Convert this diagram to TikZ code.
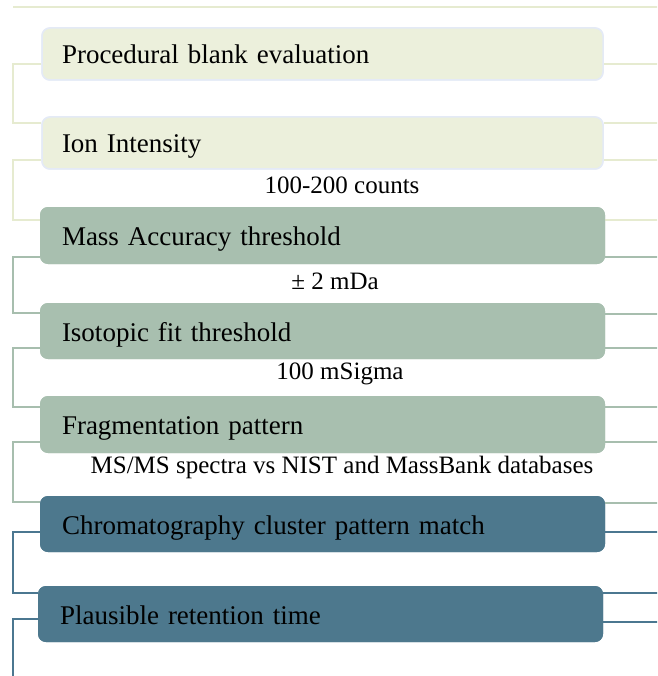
\documentclass[tikz,border=0pt]{standalone}
\usepackage{fontspec}
\setmainfont{Liberation Serif}
\definecolor{lfill}{HTML}{ECF0DC}
\definecolor{lborder}{HTML}{E4EAF6}
\definecolor{lline}{HTML}{E6EBD0}
\definecolor{gfill}{HTML}{A8BFAF}
\definecolor{gline}{HTML}{A7BEAE}
\definecolor{bfill}{HTML}{4D788D}
\definecolor{bline}{HTML}{4B7790}
\begin{document}
\begin{tikzpicture}[x=1pt,y=-1pt,
  box/.style={rectangle, rounded corners=8pt, minimum width=561pt, inner xsep=20pt, inner ysep=0pt,
     text width=521pt, align=left, font=\fontsize{27}{30}\selectfont, anchor=center,
     text height=22pt, text depth=2pt},
  lbox/.style={box, fill=lfill, draw=lborder, line width=1.5pt},
  gbox/.style={box, fill=gfill},
  bbox/.style={box, fill=bfill},
  lab/.style={font=\fontsize{25}{28}\selectfont, inner sep=0pt},
  conn/.style={line width=2.4pt},
  lc/.style={conn, draw=lline},
  gc/.style={conn, draw=gline},
  bc/.style={conn, draw=bline}]
\useasboundingbox (0,0) rectangle (657,676);
\clip (0,0) rectangle (657,676);
\coordinate (L) at (13,0);
\coordinate (R) at (680,0);
\coordinate (T) at (13,7);
% top line
\draw[lc] (T) -- (R |- T);
% boxes (positions)
\node[lbox, minimum height=52pt] (b1) at (322.5,54) {};
\node[lbox, minimum height=52pt] (b2) at (322.5,143) {};
\node[gbox, minimum height=57pt, minimum width=565pt] (b3) at (322.5,235.5) {};
\node[gbox, minimum height=56pt, minimum width=565pt] (b4) at (322.5,331) {};
\node[gbox, minimum height=57pt, minimum width=565pt] (b5) at (322.5,424.5) {};
\node[bbox, minimum height=56pt, minimum width=565pt] (b6) at (322.5,524) {};
\node[bbox, minimum height=56pt, minimum width=565pt] (b7) at (320.5,614) {};
% labels
\node[lab] (t1) at (342,185) {100-200 counts};
\node[lab] (t2) at (335,281) {± 2 mDa};
\node[lab] (t3) at (340,374) {100 mSigma};
\node[lab] (t4) at (342,467) {MS/MS spectra vs NIST and MassBank databases};
% left brackets
\draw[lc] (b1.west |- 0,64) -- (L |- 0,64) -- (L |- 0,123) -- (b2.west |- 0,123);
\draw[lc] (b2.west |- 0,160) -- (L |- 0,160) -- (L |- 0,220) -- (b3.west |- 0,220);
\draw[gc] (b3.west |- 0,257) -- (L |- 0,257) -- (L |- 0,313) -- (b4.west |- 0,313);
\draw[gc] (b4.west |- 0,348) -- (L |- 0,348) -- (L |- 0,407) -- (b5.west |- 0,407);
\draw[gc] (b5.west |- 0,442) -- (L |- 0,442) -- (L |- 0,502) -- (b6.west |- 0,502);
\draw[bc] (b6.west |- 0,532) -- (L |- 0,532) -- (L |- 0,593) -- (b7.west |- 0,593);
\draw[bc] (b7.west |- 0,619) -- (L |- 0,619) -- (L |- 0,690);
% right brackets (cut off by the picture's edge)
\draw[lc] (b1.east |- 0,64) -- (R |- 0,64) -- (R |- 0,123) -- (b2.east |- 0,123);
\draw[lc] (b2.east |- 0,160) -- (R |- 0,160) -- (R |- 0,220) -- (b3.east |- 0,220);
\draw[gc] (b3.east |- 0,257) -- (R |- 0,257) -- (R |- 0,314) -- (b4.east |- 0,314);
\draw[gc] (b4.east |- 0,348) -- (R |- 0,348) -- (R |- 0,407) -- (b5.east |- 0,407);
\draw[gc] (b5.east |- 0,442) -- (R |- 0,442) -- (R |- 0,503) -- (b6.east |- 0,503);
\draw[bc] (b6.east |- 0,532) -- (R |- 0,532) -- (R |- 0,593) -- (b7.east |- 0,593);
\draw[bc] (b7.east |- 0,622) -- (R |- 0,622) -- (R |- 0,690);
% boxes drawn above connectors
\node[lbox, minimum height=52pt] (c1) at (b1) {Procedural blank evaluation};
\node[lbox, minimum height=52pt] (c2) at (b2) {Ion Intensity};
\node[gbox, minimum height=57pt, minimum width=565pt] (c3) at (b3) {Mass Accuracy threshold};
\node[gbox, minimum height=56pt, minimum width=565pt] (c4) at (b4) {Isotopic fit threshold};
\node[gbox, minimum height=57pt, minimum width=565pt] (c5) at (b5) {Fragmentation pattern};
\node[bbox, minimum height=56pt, minimum width=565pt] (c6) at (b6) {Chromatography cluster pattern match};
\node[bbox, minimum height=56pt, minimum width=565pt] (c7) at (b7) {Plausible retention time};
\end{tikzpicture}
\end{document}
